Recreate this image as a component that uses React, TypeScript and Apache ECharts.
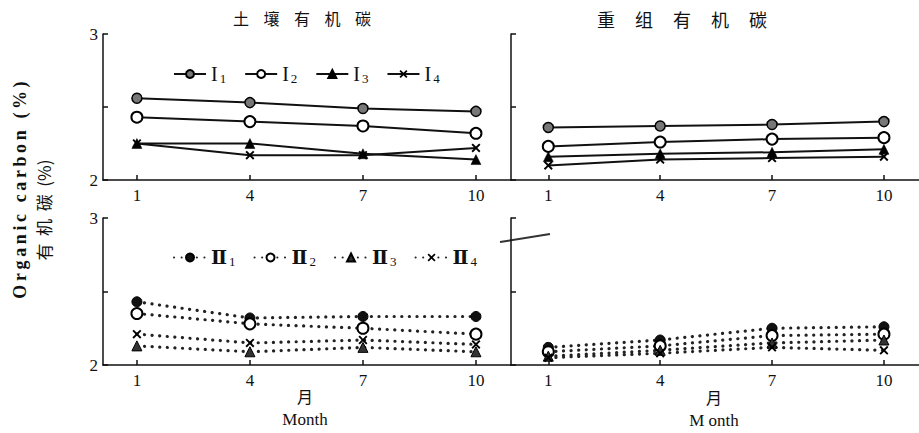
import React, { useEffect, useRef } from "react";
import * as echarts from "echarts";

const months = [1, 4, 7, 10];
const xTicks = [1, 4, 7, 10];
const yTicks = [2, 2.5, 3];

// Top-left: 土壤有机碳 (I series, solid)
const soilI1 = [2.56, 2.53, 2.49, 2.47];
const soilI2 = [2.43, 2.4, 2.37, 2.32];
const soilI3 = [2.25, 2.25, 2.18, 2.14];
const soilI4 = [2.25, 2.17, 2.17, 2.22];
// Top-right: 重组有机碳 (I series, solid)
const heavyI1 = [2.36, 2.37, 2.38, 2.4];
const heavyI2 = [2.23, 2.26, 2.28, 2.29];
const heavyI3 = [2.16, 2.18, 2.19, 2.21];
const heavyI4 = [2.1, 2.14, 2.15, 2.16];
// Bottom-left: 土壤有机碳 (II series, dotted)
const soilII1 = [2.43, 2.32, 2.33, 2.33];
const soilII2 = [2.35, 2.28, 2.25, 2.21];
const soilII3 = [2.13, 2.09, 2.12, 2.09];
const soilII4 = [2.21, 2.15, 2.17, 2.14];
// Bottom-right: 重组有机碳 (II series, dotted)
const heavyII1 = [2.12, 2.17, 2.25, 2.26];
const heavyII2 = [2.09, 2.13, 2.2, 2.21];
const heavyII3 = [2.06, 2.1, 2.15, 2.17];
const heavyII4 = [2.05, 2.08, 2.12, 2.1];

const namesI = ["I1", "I2", "I3", "I4"];
const namesII = ["II1", "II2", "II3", "II4"];

const titleLeft = ["土", "壤", "有", "机", "碳"];
const titleRight = ["重", "组", "有", "机", "碳"];

const X_PATH =
  "path://M0,1.5 L1.5,0 L5,3.5 L8.5,0 L10,1.5 L6.5,5 L10,8.5 L8.5,10 L5,6.5 L1.5,10 L0,8.5 L3.5,5 Z";

const SERIF = "'Liberation Serif', 'DejaVu Serif', serif";
const CJK = "'Noto Sans CJK SC', sans-serif";

const markerStyles = [
  { symbol: "circle", symbolSize: 10, itemStyle: { color: "#777", borderColor: "#000", borderWidth: 1.5 } },
  { symbol: "circle", symbolSize: 11, itemStyle: { color: "#fff", borderColor: "#000", borderWidth: 2 } },
  { symbol: "triangle", symbolSize: 10, itemStyle: { color: "#000", borderColor: "#000", borderWidth: 0.5 } },
  { symbol: X_PATH, symbolSize: 9, itemStyle: { color: "#000", borderColor: "#000", borderWidth: 0 } },
];
const markerStylesII = [
  { symbol: "circle", symbolSize: 10, itemStyle: { color: "#111", borderColor: "#000", borderWidth: 1 } },
  { symbol: "circle", symbolSize: 11, itemStyle: { color: "#fff", borderColor: "#000", borderWidth: 2 } },
  { symbol: "triangle", symbolSize: 10, itemStyle: { color: "#333", borderColor: "#000", borderWidth: 1 } },
  { symbol: X_PATH, symbolSize: 9, itemStyle: { color: "#000", borderColor: "#000", borderWidth: 0 } },
];

function txt(
  text: string,
  x: number,
  y: number,
  fontSize: number,
  fontFamily: string,
  opts: { bold?: boolean; rotate?: boolean } = {}
) {
  return {
    type: "text",
    x,
    y,
    rotation: opts.rotate ? Math.PI / 2 : 0,
    style: {
      text,
      fontSize,
      fontFamily,
      fontWeight: opts.bold ? "bold" : "normal",
      fill: "#111",
      align: "center",
      verticalAlign: "middle",
    },
  };
}

export default function App() {
  const ref = useRef<HTMLDivElement>(null);

  useEffect(() => {
    if (!ref.current) return;
    const chart = echarts.init(ref.current, null, { renderer: "svg" });

    const grids = [
      { left: 103, top: 34, width: 408, height: 146 },
      { left: 511, top: 34, width: 408, height: 146 },
      { left: 103, top: 218, width: 408, height: 147 },
      { left: 511, top: 218, width: 408, height: 147 },
    ];

    const axisLineStyle = { color: "#111", width: 1.5 };

    const xAxes = grids.map((_, i) => ({
      gridIndex: i,
      type: "value",
      min: i % 2 === 0 ? 0.1 : 0.0,
      max: i % 2 === 0 ? 10.93 : 10.94,
      axisLine: { show: true, onZero: false, lineStyle: axisLineStyle },
      axisTick: { show: true, inside: true, length: 5, customValues: xTicks, lineStyle: { color: "#111", width: 1.5 } },
      axisLabel: {
        show: true,
        customValues: xTicks,
        fontFamily: SERIF,
        fontSize: 17,
        color: "#111",
        margin: 7,
      },
      splitLine: { show: false },
    }));

    const yAxes = grids.map((_, i) => ({
      gridIndex: i,
      type: "value",
      min: 2,
      max: 3,
      interval: 0.5,
      axisLine: { show: true, onZero: false, lineStyle: axisLineStyle },
      axisTick: { show: true, inside: true, length: 5, lineStyle: { color: "#111", width: 1.5 } },
      axisLabel: {
        show: i % 2 === 0,
        fontFamily: SERIF,
        fontSize: 17,
        color: "#111",
        margin: 5,
        formatter: (v: number) => (yTicks.indexOf(v) >= 0 && v !== 2.5 ? String(v) : ""),
      },
      splitLine: { show: false },
    }));

    const panelData = [
      [soilI1, soilI2, soilI3, soilI4],
      [heavyI1, heavyI2, heavyI3, heavyI4],
      [soilII1, soilII2, soilII3, soilII4],
      [heavyII1, heavyII2, heavyII3, heavyII4],
    ];

    const series: any[] = [];
    panelData.forEach((group, g) => {
      const dotted = g >= 2;
      group.forEach((vals, k) => {
        const ms = dotted ? markerStylesII[k] : markerStyles[k];
        series.push({
          type: "line",
          name: dotted ? namesII[k] : namesI[k],
          xAxisIndex: g,
          yAxisIndex: g,
          data: months.map((m, j) => [m, vals[j]]),
          symbol: ms.symbol,
          symbolSize: ms.symbolSize,
          itemStyle: ms.itemStyle,
          lineStyle: dotted
            ? { color: "#222", width: 3.2, type: [0.1, 7.5], cap: "round" }
            : { color: "#111", width: 2 },
          z: 3,
        });
      });
    });

    const legendRich = {
      r: { fontFamily: SERIF, fontSize: 20, color: "#111" },
      rb: { fontFamily: SERIF, fontSize: 19, fontWeight: "bold", color: "#111" },
      s: { fontFamily: SERIF, fontSize: 13, color: "#111", padding: [8, 0, 0, 2] },
    };

    const thin = "\u2009";
    const yName = "Organic carbon (%)".split("").join(thin);

    const option: any = {
      animation: false,
      backgroundColor: "#fff",
      grid: grids.map((g) => ({ ...g, containLabel: false })),
      xAxis: xAxes,
      yAxis: yAxes,
      legend: [
        {
          data: namesI,
          left: 168,
          top: 59,
          itemWidth: 32,
          itemHeight: 10,
          itemGap: 18,
          formatter: (name: string) => `{r|I}{s|${name.slice(1)}}`,
          textStyle: { rich: legendRich },
          selectedMode: false,
        },
        {
          data: namesII,
          left: 168,
          top: 243,
          itemWidth: 32,
          itemHeight: 10,
          itemGap: 18,
          formatter: (name: string) => `{rb|Ⅱ}{s|${name.slice(2)}}`,
          textStyle: { rich: legendRich },
          selectedMode: false,
        },
      ],
      series,
      graphic: [
        ...titleLeft.map((c, i) => txt(c, 241 + i * 30.5, 18, 16, CJK)),
        ...titleRight.map((c, i) => txt(c, 606 + i * 38, 19, 18, CJK)),
        txt(yName, 20, 190, 18, SERIF, { bold: true, rotate: true }),
        txt("有  机  碳  (%)", 43, 210, 17, CJK, { rotate: true }),
        txt("月", 305, 396, 16, CJK),
        txt("Month", 305, 419, 17, SERIF),
        txt("月", 714, 397, 16, CJK),
        txt("M onth", 714, 420, 17, SERIF),
        {
          type: "line",
          shape: { x1: 500, y1: 242, x2: 550, y2: 234 },
          style: { stroke: "#333", lineWidth: 2 },
        },
      ],
    };

    chart.setOption(option);
    return () => chart.dispose();
  }, []);

  return (
    <div
      ref={ref}
      style={{ position: "fixed", left: 0, top: 0, width: 919, height: 433, background: "#fff" }}
    />
  );
}
